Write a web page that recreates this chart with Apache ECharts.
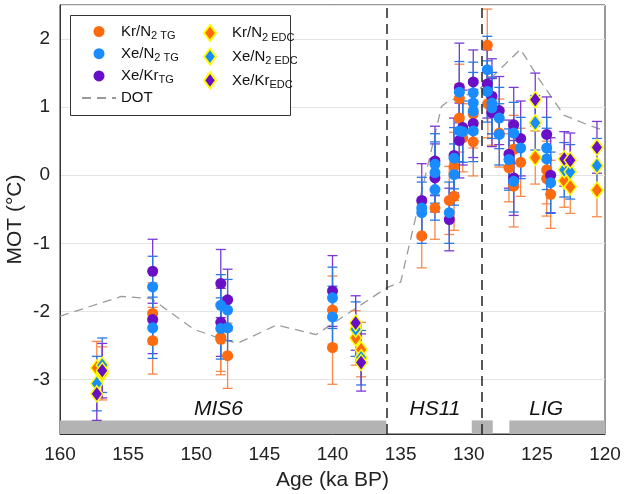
<!DOCTYPE html>
<html>
<head>
<meta charset="utf-8">
<script src="https://cdn.jsdelivr.net/npm/echarts@6/dist/echarts.min.js"></script>
<style>html,body{margin:0;padding:0;background:#fff}#c{width:624px;height:494px}</style>
</head>
<body>
<div id="c"></div>
<script>
// [age (ka BP), MOT (°C), error]
const KrN2_TG = [
 [153.2,-2.03,0.45],[153.2,-2.43,0.49],
 [148.2,-2.38,0.5],[148.2,-2.41,0.52],
 [147.7,-2.65,0.48],
 [140.0,-1.98,0.5],[140.0,-2.53,0.54],
 [133.45,-0.89,0.47],
 [132.48,-0.48,0.46],
 [131.43,-0.37,0.5],
 [131.08,0.13,0.5],[131.08,-0.31,0.5],
 [130.69,1.13,0.5],[130.69,0.84,0.5],
 [130.44,0.55,0.5],
 [129.67,0.90,0.5],[129.67,0.49,0.5],
 [128.64,1.91,0.53],[128.6,1.05,0.5],
 [128.3,0.94,0.5],
 [127.76,0.62,0.5],
 [127.05,0.11,0.5],
 [126.7,0.38,0.5],[126.7,-0.16,0.6],
 [126.19,0.19,0.5],
 [124.28,0.08,0.5],[124.28,-0.05,0.55],
 [123.99,-0.28,0.5]
];
const XeN2_TG = [
 [153.2,-1.64,0.45],[153.2,-2.24,0.45],
 [148.2,-1.91,0.45],[148.2,-2.25,0.45],
 [147.7,-1.98,0.45],[147.7,-2.24,0.45],
 [140.0,-1.80,0.45],[140.0,-2.08,0.45],
 [133.45,-0.48,0.45],[133.45,-0.55,0.45],
 [132.48,0.16,0.45],[132.48,0.04,0.45],[132.48,-0.21,0.45],
 [131.43,-0.55,0.45],
 [131.08,0.25,0.45],[131.08,0.01,0.45],
 [130.69,1.22,0.45],[130.69,0.65,0.45],
 [130.44,0.64,0.45],
 [129.67,1.21,0.45],[129.67,1.06,0.45],[129.67,0.94,0.45],[129.67,0.65,0.45],
 [128.64,1.55,0.49],[128.64,1.23,0.45],
 [128.3,1.06,0.45],[128.3,0.99,0.45],
 [127.76,0.84,0.45],[127.76,0.60,0.45],
 [127.05,0.23,0.45],
 [126.7,0.62,0.45],[126.7,-0.09,0.45],
 [126.19,0.40,0.45],
 [124.28,0.40,0.45],[124.28,0.24,0.45],
 [123.99,-0.11,0.45]
];
const XeKr_TG = [
 [153.2,-1.41,0.47],[153.2,-2.12,0.5],
 [148.2,-1.59,0.5],[148.2,-2.16,0.5],
 [147.7,-1.83,0.45],
 [140.0,-1.70,0.52],
 [133.45,-0.37,0.54],
 [132.48,0.21,0.51],[132.48,-0.04,0.5],
 [131.43,-0.65,0.46],
 [131.08,0.29,0.55],
 [130.69,1.29,0.65],[130.69,0.51,0.55],
 [130.44,0.70,0.55],
 [129.67,1.37,0.47],[129.67,0.76,0.5],
 [128.64,1.34,0.5],
 [128.3,1.16,0.55],[128.3,0.92,0.5],
 [127.76,0.95,0.5],
 [127.05,0.31,0.5],
 [126.7,0.74,0.55],[126.7,-0.04,0.55],
 [126.19,0.54,0.55],
 [124.28,0.60,0.55],
 [123.99,0.0,0.55]
];
const KrN2_EDC = [[157.3,-2.83,0.39],[156.9,-2.91,0.39],[138.3,-2.39,0.4],[137.9,-2.56,0.4],[125.12,0.26,0.39],[122.99,-0.08,0.39],[122.55,-0.17,0.39],[120.59,-0.22,0.39]];
const XeN2_EDC = [[157.3,-3.06,0.4],[156.9,-2.79,0.4],[138.3,-2.26,0.4],[137.9,-2.68,0.4],[125.12,0.77,0.4],[122.99,0.08,0.4],[122.55,0.05,0.4],[120.59,0.14,0.4]];
const XeKr_EDC = [[157.3,-3.21,0.39],[156.9,-2.87,0.4],[138.3,-2.17,0.4],[137.9,-2.75,0.42],[125.12,1.11,0.39],[122.99,0.24,0.4],[122.55,0.22,0.4],[120.59,0.41,0.38]];

const DOT_age = [160,155.5,153.3,150.2,148.5,147,144.1,141.2,140.6,136,135,132,131.5,129.4,128,126.2,124.8,123,121.5,120];
const DOT_val = [-2.07,-1.78,-1.81,-2.26,-2.38,-2.47,-2.2,-2.34,-2.26,-1.65,-1.57,1.01,1.09,1.23,1.5,1.85,1.4,0.88,0.76,0.65];

const xTicks = [120,125,130,135,140,145,150,155,160];
const periodBars = [[160,136.05],[129.78,128.24],[127.02,120]];
const periodLines = [136.05,129.05];
const periodLabels = [['MIS6',148.37],['HS11',132.48],['LIG',124.31]];

const C = {kr:'#fe6a10', xe:'#1a8cff', xk:'#6a0fc8'};
const CE = {kr:'#f8894a', xe:'#2a78e4', xk:'#7a3ad2'};
const FONT = 'Liberation Sans, Arial, Helvetica, sans-serif';

function errSeries(data, color){
  return {
    type:'custom', data: data, silent:true, legendHoverLink:false,
    encode:{x:0,y:1},
    renderItem:function(params, api){
      const x=api.value(0), y=api.value(1), e=api.value(2);
      const t=api.coord([x,y+e]), b=api.coord([x,y-e]);
      const w=5;
      const st={stroke:color,lineWidth:1.3};
      return {type:'group',children:[
        {type:'line',shape:{x1:t[0],y1:t[1],x2:b[0],y2:b[1]},style:st},
        {type:'line',shape:{x1:t[0]-w,y1:t[1],x2:t[0]+w,y2:t[1]},style:st},
        {type:'line',shape:{x1:b[0]-w,y1:b[1],x2:b[0]+w,y2:b[1]},style:st}
      ]};
    }
  };
}
function tg(name, data, color){
  return {name:name,type:'scatter',data:data.map(d=>[d[0],d[1]]),symbol:'circle',symbolSize:11,
    itemStyle:{color:color,opacity:1}};
}
function edc(name, data, color){
  return {name:name,type:'scatter',data:data.map(d=>[d[0],d[1]]),symbol:'diamond',symbolSize:[12,16],
    itemStyle:{color:color,borderColor:'#ffff00',borderWidth:1.5,opacity:1}};
}
const names = {
  krTG:'{m|Kr/N}{s|2 TG}', xeTG:'{m|Xe/N}{s|2 TG}', xkTG:'{m|Xe/Kr}{s|TG}', DOT:'{m|DOT}',
  krEDC:'{sp|}{m|Kr/N}{s|2 EDC}', xeEDC:'{sp|}{m|Xe/N}{s|2 EDC}', xkEDC:'{sp|}{m|Xe/Kr}{s|EDC}'
};
const legText = {
  fontFamily:FONT, color:'#111',
  rich:{ m:{fontSize:15,lineHeight:20,fontFamily:FONT,color:'#111'},
         s:{fontSize:11,lineHeight:8,verticalAlign:'bottom',fontFamily:FONT,color:'#111'},
         sp:{width:11,lineHeight:20} }
};

const chart = echarts.init(document.getElementById('c'), null, {renderer:'canvas'});
chart.setOption({
  animation:false,
  backgroundColor:'#fff',
  grid:{left:60,right:19,top:5,bottom:60,containLabel:false,outerBoundsMode:'none',
    show:true,borderColor:'#333',borderWidth:1,backgroundColor:'transparent'},
  xAxis:{type:'value',min:120,max:160,interval:5,inverse:true,
    name:'Age (ka BP)',nameLocation:'middle',nameGap:36,nameMoveOverlap:false,
    nameTextStyle:{fontSize:21,fontFamily:FONT,color:'#222'},
    axisLine:{show:true,onZero:false,lineStyle:{color:'#333'}},axisTick:{show:false},
    axisLabel:{fontSize:19,fontFamily:FONT,color:'#222',margin:11},
    splitLine:{show:false}},
  yAxis:{type:'value',min:-3.8,max:2.5,splitNumber:6,
    name:'MOT (°C)',nameLocation:'middle',nameGap:34,nameRotate:90,nameMoveOverlap:false,
    nameTextStyle:{fontSize:21,fontFamily:FONT,color:'#222'},
    axisLine:{show:true,onZero:false,lineStyle:{color:'#333'}},axisTick:{show:false},
    axisLabel:{fontSize:19,fontFamily:FONT,color:'#222',margin:10,showMinLabel:false,showMaxLabel:false,
      formatter:v=>Math.abs(v-Math.round(v))<1e-6?String(Math.round(v)):''},
    splitLine:{show:true,lineStyle:{color:'#e3e3e3',width:1}}},
  graphic:[{type:'rect',z:100,shape:{x:70.5,y:15.5,width:220,height:100},style:{fill:'#fff',stroke:'#333',lineWidth:1}}],
  legend:[
    {z:101,orient:'vertical',left:76,top:19,itemWidth:34,itemHeight:11,itemGap:4.7,selectedMode:false,
     data:[{name:'krTG',icon:'circle'},{name:'xeTG',icon:'circle'},{name:'xkTG',icon:'circle'},
           {name:'DOT',itemStyle:{opacity:0}}],
     formatter:n=>names[n], textStyle:legText},
    {z:101,orient:'vertical',left:198,top:19,itemWidth:12,itemHeight:16,itemGap:4.7,selectedMode:false,
     data:[{name:'krEDC',icon:'diamond'},{name:'xeEDC',icon:'diamond'},{name:'xkEDC',icon:'diamond'}],
     formatter:n=>names[n], textStyle:legText}
  ],
  series:[
    {name:'DOT',type:'line',data:DOT_age.map((a,i)=>[a,DOT_val[i]]),symbol:'none',showSymbol:false,z:1,
      lineStyle:{color:'#9a9a9a',width:1.3,type:[9,6]},itemStyle:{color:'#9a9a9a'},
      markArea:{silent:true,itemStyle:{color:'#b3b3b3',opacity:1},
        data:periodBars.map(p=>[{xAxis:p[0],yAxis:-3.8},{xAxis:p[1],yAxis:-3.6}])},
      markLine:{silent:true,symbol:'none',label:{show:false},
        lineStyle:{color:'#222',type:[10,6],width:1.5},
        data:periodLines.map(x=>({xAxis:x}))},
      markPoint:{silent:true,symbol:'rect',symbolSize:1,itemStyle:{color:'transparent'},
        label:{show:true,position:'inside',formatter:'{b}',fontSize:21,fontStyle:'italic',fontFamily:FONT,color:'#111'},
        data:periodLabels.map(l=>({name:l[0],coord:[l[1],-3.44]}))}
    },
    errSeries(KrN2_TG,CE.kr), errSeries(XeKr_TG,CE.xk), errSeries(XeN2_TG,CE.xe),
    errSeries(KrN2_EDC,CE.kr), errSeries(XeN2_EDC,CE.xe), errSeries(XeKr_EDC,CE.xk),
    tg('krTG',KrN2_TG,C.kr), tg('xkTG',XeKr_TG,C.xk), tg('xeTG',XeN2_TG,C.xe),
    edc('krEDC',KrN2_EDC,C.kr), edc('xeEDC',XeN2_EDC,C.xe), edc('xkEDC',XeKr_EDC,C.xk)
  ]
});
</script>
</body>
</html>
